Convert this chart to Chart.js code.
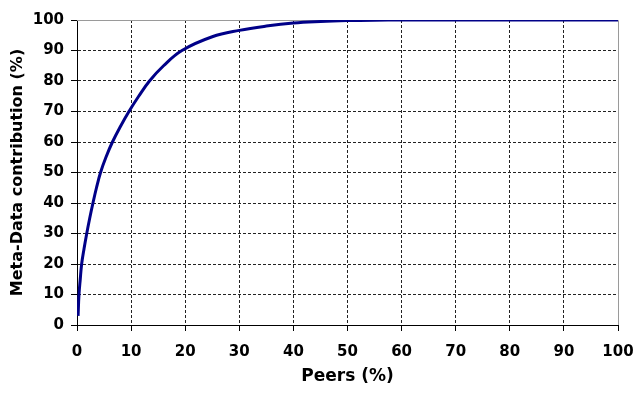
<!DOCTYPE html>
<html>
<head>
<meta charset="utf-8">
<script src="https://cdn.jsdelivr.net/npm/chart.js@4"></script>
<style>
  html, body { margin: 0; padding: 0; background: #fff; }
  #wrap { width: 634px; height: 394px; }
</style>
</head>
<body>
<div id="wrap"><canvas id="chart" width="634" height="394"></canvas></div>
<script>
// values
const peersPct = [0.2, 0.37, 0.6, 0.86, 1.3, 1.8, 2.35, 2.95, 3.6, 4.35, 5.35, 6.55, 8.0, 9.6,
                  11.4, 13.4, 16.0, 19.4, 25, 30, 35, 40, 45, 50, 55, 60, 70, 80, 90, 100];
const contribution = [3, 10, 15, 20, 25, 30, 35, 40, 45, 50, 55, 60, 65, 70,
                      75, 80, 85, 90, 94.5, 96.6, 98.0, 99.0, 99.5, 99.8, 99.95, 100, 100, 100, 100, 100];
const xTitle = 'Peers (%)';
const yTitle = 'Meta-Data contribution (%)';

const FONT = 'DejaVu Sans';
const GRID = '#222';

// gray frame on top and right like the original plot area
const framePlugin = {
  id: 'frame',
  beforeDatasetsDraw(chart) {
    const { ctx, chartArea: a } = chart;
    ctx.save();
    ctx.strokeStyle = '#9a9a9a';
    ctx.lineWidth = 1;
    ctx.beginPath();
    ctx.moveTo(a.left, a.top + 0.5);
    ctx.lineTo(a.right + 0.5, a.top + 0.5);
    ctx.lineTo(a.right + 0.5, a.bottom);
    ctx.stroke();
    ctx.restore();
  },
};

function gridColor(ctx) {
  return ctx.tick && ctx.tick.value === 100 ? 'rgba(0,0,0,0)' : GRID;
}

new Chart(document.getElementById('chart'), {
  type: 'line',
  data: {
    datasets: [{
      data: peersPct.map((x, i) => ({ x, y: contribution[i] })),
      borderColor: '#000088',
      borderWidth: 3,
      pointRadius: 0,
      tension: 0.4,
      fill: false,
    }],
  },
  options: {
    responsive: false,
    animation: false,
    layout: { padding: { top: 20, right: 16, bottom: 0, left: 0 } },
    plugins: { legend: { display: false }, tooltip: { enabled: false } },
    scales: {
      x: {
        type: 'linear',
        min: 0, max: 100,
        afterFit: s => { s.height = 69; s.paddingLeft = 0; s.paddingRight = 0; },
        ticks: { stepSize: 10, color: '#000', padding: 12, maxRotation: 0,
                 font: { family: FONT, size: 15, weight: 'bold' } },
        grid: { color: gridColor, tickColor: '#000', tickLength: 6, lineWidth: 1 },
        border: { color: '#000', width: 1, dash: [3, 2] },
        title: { display: true, text: xTitle, color: '#000', padding: { top: 0, bottom: 7 },
                 font: { family: FONT, size: 17, weight: 'bold' } },
      },
      y: {
        min: 0, max: 100,
        afterFit: s => { s.width = 77; s.paddingTop = 0; s.paddingBottom = 0; },
        ticks: { stepSize: 10, color: '#000', padding: 7,
                 font: { family: FONT, size: 15, weight: 'bold' } },
        grid: { color: gridColor, tickColor: '#000', tickLength: 6, lineWidth: 1 },
        border: { color: '#000', width: 1, dash: [3, 2] },
        title: { display: true, text: yTitle, color: '#000', padding: { top: 8, bottom: 0 },
                 font: { family: FONT, size: 16, weight: 'bold' } },
      },
    },
  },
  plugins: [framePlugin],
});
</script>
</body>
</html>
